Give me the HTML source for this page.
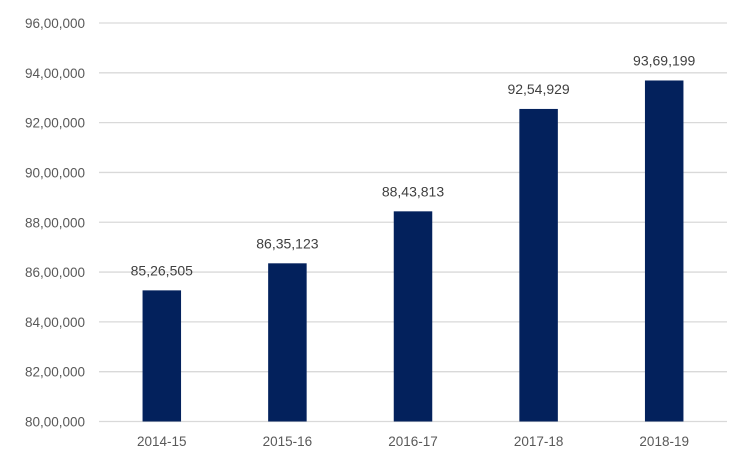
<!DOCTYPE html>
<html><head><meta charset="utf-8"><style>
body{margin:0;background:#fff;}
svg{display:block;font-family:"Liberation Sans",sans-serif;}
</style></head><body>
<svg id="chart" width="750" height="468"></svg>
<script>
const categories=["2014-15","2015-16","2016-17","2017-18","2018-19"];
const values=[8526505,8635123,8843813,9254929,9369199];
const valueLabels=["85,26,505","86,35,123","88,43,813","92,54,929","93,69,199"];
const ticks=[8000000,8200000,8400000,8600000,8800000,9000000,9200000,9400000,9600000];
const tickLabels=["80,00,000","82,00,000","84,00,000","86,00,000","88,00,000","90,00,000","92,00,000","94,00,000","96,00,000"];
const NS="http://www.w3.org/2000/svg";
const svg=document.getElementById('chart');
const x0=99,x1=727,yTop=23,yBot=421.5,ymin=8000000,ymax=9600000;
const y=v=>yBot-(v-ymin)/(ymax-ymin)*(yBot-yTop);
const band=(x1-x0)/categories.length;
const xc=i=>x0+band*(i+0.5);
function mk(t,a){const e=document.createElementNS(NS,t);for(const k in a)e.setAttribute(k,a[k]);svg.appendChild(e);return e;}
ticks.forEach((t,i)=>{
  const l=mk('line',{x1:x0,x2:x1,y1:y(t),y2:y(t),stroke:'#d9d9d9','stroke-width':1.3});
  
  
  const tx=mk('text',{x:85,y:y(t)+5,'text-anchor':'end','font-size':13.5,fill:'#595959'});
  tx.textContent=tickLabels[i];
  
  
});
categories.forEach((c,i)=>{
  const w=38.5;
  const r=mk('rect',{x:xc(i)-w/2,y:y(values[i]),width:w,height:yBot-y(values[i]),fill:'#03215c'});
  
  
  const vl=mk('text',{x:xc(i),y:y(values[i])-15,'text-anchor':'middle','font-size':14,fill:'#404040'});
  vl.textContent=valueLabels[i];
  
  
  const cl=mk('text',{x:xc(i),y:446,'text-anchor':'middle','font-size':13.5,fill:'#595959'});
  cl.textContent=c;
  
  
});
</script>
</body></html>
